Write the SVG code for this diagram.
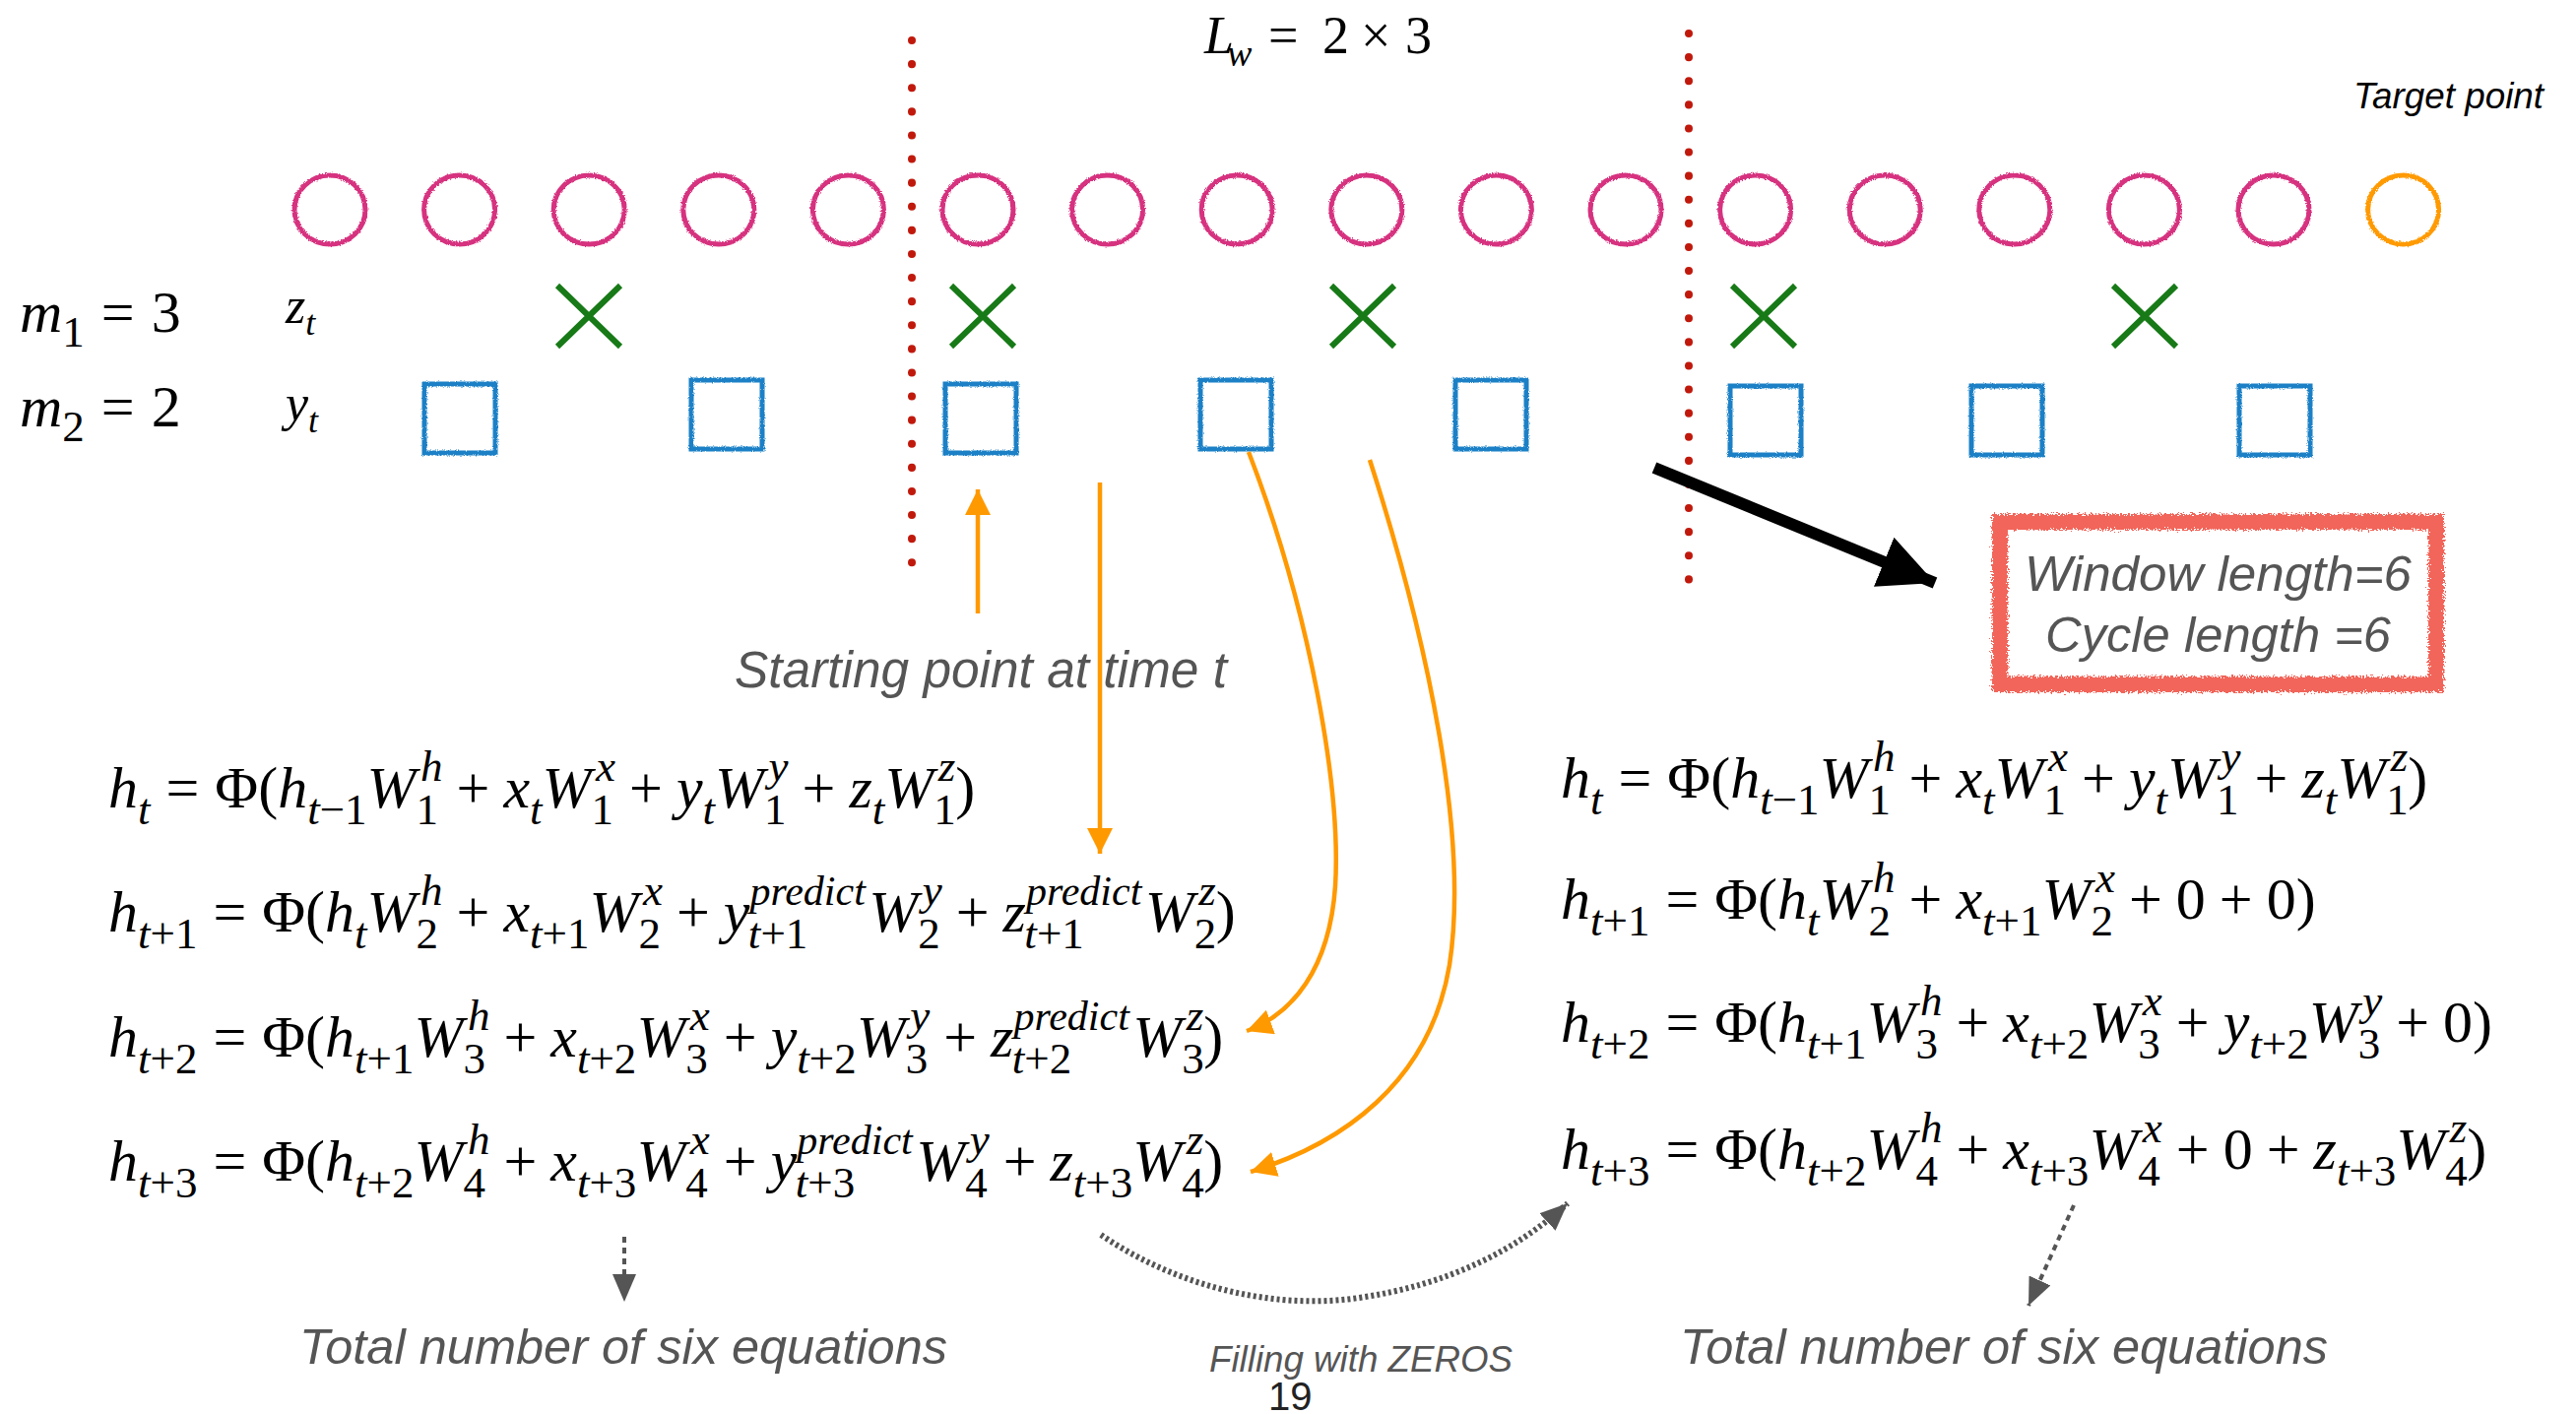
<svg xmlns="http://www.w3.org/2000/svg" width="2616" height="1436" viewBox="0 0 2616 1436">
<style>
.eq{font-family:"Liberation Serif","Times New Roman",serif;font-style:italic;font-size:60px;fill:#000}
.r{font-style:normal}
.sc{font-size:45px}
.pr{font-size:42px}
.lbl{font-family:"Liberation Sans",Arial,sans-serif;font-style:italic;fill:#555}
.circ{fill:none;stroke:#d6307f;stroke-width:5}
.sq{fill:none;stroke:#1a80c6;stroke-width:5}
.xm{stroke:#177a17;stroke-width:6;fill:none}
.dots{stroke:#c0190c;stroke-width:8;stroke-linecap:round;stroke-dasharray:0.1 24;fill:none}
.oa{fill:none;stroke:#ff9900;stroke-width:4.5}
.ga{fill:none;stroke:#555;stroke-width:4;stroke-dasharray:6 5}
.gd{fill:none;stroke:#555;stroke-width:6;stroke-dasharray:3 3}
</style>
<defs>
<filter id="rough" x="-10%" y="-10%" width="120%" height="120%">
<feTurbulence type="fractalNoise" baseFrequency="0.9" numOctaves="1" seed="3" result="n"/>
<feDisplacementMap in="SourceGraphic" in2="n" scale="3.5" xChannelSelector="R" yChannelSelector="G"/>
</filter>
<filter id="rough2" x="-5%" y="-10%" width="110%" height="120%">
<feTurbulence type="fractalNoise" baseFrequency="0.6" numOctaves="2" seed="5" result="n"/>
<feDisplacementMap in="SourceGraphic" in2="n" scale="9" xChannelSelector="R" yChannelSelector="G"/>
</filter>
<marker id="ao" markerUnits="userSpaceOnUse" markerWidth="28" markerHeight="28" refX="26" refY="13" orient="auto">
<path d="M0,0 L26,13 L0,26 z" fill="#ff9900"/>
</marker>
<marker id="ag" markerUnits="userSpaceOnUse" markerWidth="30" markerHeight="26" refX="28" refY="12" orient="auto">
<path d="M0,0 L28,12 L0,24 z" fill="#555"/>
</marker>
<marker id="ab" markerUnits="userSpaceOnUse" markerWidth="58" markerHeight="58" refX="56" refY="27" orient="auto">
<path d="M0,0 L56,27 L0,54 z" fill="#000"/>
</marker>
</defs>

<g id="dividers">
<line class="dots" x1="926" y1="41" x2="926" y2="595"/>
<line class="dots" x1="1715" y1="34" x2="1715" y2="590"/>
</g>

<g id="series-x" filter="url(#rough)">
<ellipse class="circ" cx="335" cy="213" rx="36" ry="35"/>
<ellipse class="circ" cx="466.6" cy="213" rx="36" ry="35"/>
<ellipse class="circ" cx="598.2" cy="213" rx="36" ry="35"/>
<ellipse class="circ" cx="729.8" cy="213" rx="36" ry="35"/>
<ellipse class="circ" cx="861.4" cy="213" rx="36" ry="35"/>
<ellipse class="circ" cx="993" cy="213" rx="36" ry="35"/>
<ellipse class="circ" cx="1124.6" cy="213" rx="36" ry="35"/>
<ellipse class="circ" cx="1256.2" cy="213" rx="36" ry="35"/>
<ellipse class="circ" cx="1387.8" cy="213" rx="36" ry="35"/>
<ellipse class="circ" cx="1519.4" cy="213" rx="36" ry="35"/>
<ellipse class="circ" cx="1651" cy="213" rx="36" ry="35"/>
<ellipse class="circ" cx="1782.6" cy="213" rx="36" ry="35"/>
<ellipse class="circ" cx="1914.2" cy="213" rx="36" ry="35"/>
<ellipse class="circ" cx="2045.8" cy="213" rx="36" ry="35"/>
<ellipse class="circ" cx="2177.4" cy="213" rx="36" ry="35"/>
<ellipse class="circ" cx="2309" cy="213" rx="36" ry="35"/>
<ellipse class="circ" cx="2440.6" cy="213" rx="36" ry="35" style="stroke:#ff9a00"/>
</g>

<g id="series-z">
<path class="xm" d="M566,290 L630,352 M630,290 L566,352"/>
<path class="xm" d="M966,290 L1030,352 M1030,290 L966,352"/>
<path class="xm" d="M1352,290 L1416,352 M1416,290 L1352,352"/>
<path class="xm" d="M1759,290 L1823,352 M1823,290 L1759,352"/>
<path class="xm" d="M2146,290 L2210,352 M2210,290 L2146,352"/>
</g>

<g id="series-y" filter="url(#rough)">
<rect class="sq" x="431" y="390" width="72" height="70"/>
<rect class="sq" x="702" y="386" width="72" height="70"/>
<rect class="sq" x="960" y="390" width="72" height="70"/>
<rect class="sq" x="1219" y="386" width="72" height="70"/>
<rect class="sq" x="1478" y="386" width="72" height="70"/>
<rect class="sq" x="1757" y="392" width="72" height="70"/>
<rect class="sq" x="2002" y="392" width="72" height="70"/>
<rect class="sq" x="2274" y="392" width="72" height="70"/>
</g>

<g id="labels">
<text class="eq" x="1223" y="54" style="font-size:54px">L<tspan x="1246" dy="13" style="font-size:38px">w</tspan><tspan class="r" x="1288" dy="-13">=</tspan><tspan class="r" x="1343">2</tspan><tspan class="r" x="1382">×</tspan><tspan class="r" x="1427">3</tspan></text>
<text class="lbl" x="2390" y="110" textLength="193" lengthAdjust="spacingAndGlyphs" style="font-size:36px;fill:#000">Target point</text>
<text class="eq" x="20" y="337">m<tspan class="sc r" dy="15">1</tspan><tspan class="r" dy="-15" dx="17">=</tspan><tspan class="r" dx="17">3</tspan></text>
<text class="eq" x="20" y="433">m<tspan class="sc r" dy="15">2</tspan><tspan class="r" dy="-15" dx="17">=</tspan><tspan class="r" dx="17">2</tspan></text>
<text class="eq" x="290" y="328" style="font-size:52px">z<tspan dy="12" style="font-size:36px">t</tspan></text>
<text class="eq" x="290" y="427" style="font-size:52px">y<tspan dy="12" style="font-size:36px">t</tspan></text>
<text class="lbl" x="746" y="698" textLength="500" lengthAdjust="spacingAndGlyphs" style="font-size:51px">Starting point at time t</text>
<text class="lbl" x="304" y="1385" textLength="658" lengthAdjust="spacingAndGlyphs" style="font-size:50px">Total number of six equations</text>
<text class="lbl" x="1706" y="1385" textLength="658" lengthAdjust="spacingAndGlyphs" style="font-size:50px">Total number of six equations</text>
<text class="lbl" x="1228" y="1393" textLength="308" lengthAdjust="spacingAndGlyphs" style="font-size:36px">Filling with ZEROS</text>
<text x="1288" y="1432" style="font-family:'Liberation Sans',Arial,sans-serif;font-size:40px;fill:#222">19</text>
</g>

<g id="note-box">
<rect x="2031" y="530" width="443" height="165" fill="none" stroke="#f2655a" stroke-width="16" filter="url(#rough2)"/>
<text class="lbl" x="2056" y="600" textLength="393" lengthAdjust="spacingAndGlyphs" style="font-size:50px">Window length=6</text>
<text class="lbl" x="2077" y="662" textLength="351" lengthAdjust="spacingAndGlyphs" style="font-size:50px">Cycle length =6</text>
</g>

<g id="equations-left">
<text class="eq" x="110" y="820">h<tspan class="sc" dy="17">t</tspan><tspan class="r" dy="-17" dx="16">=</tspan><tspan class="r" dx="16">Φ(</tspan>h<tspan class="sc" dy="17">t<tspan class="r">−1</tspan></tspan><tspan dy="-17">W</tspan><tspan class="sc r" dy="17">1</tspan><tspan class="sc" dx="-18" dy="-44">h</tspan><tspan class="r" dy="27" dx="14">+</tspan><tspan dx="14">x</tspan><tspan class="sc" dy="17">t</tspan><tspan dy="-17">W</tspan><tspan class="sc r" dy="17">1</tspan><tspan class="sc" dx="-18" dy="-44">x</tspan><tspan class="r" dy="27" dx="14">+</tspan><tspan dx="14">y</tspan><tspan class="sc" dy="17">t</tspan><tspan dy="-17">W</tspan><tspan class="sc r" dy="17">1</tspan><tspan class="sc" dx="-18" dy="-44">y</tspan><tspan class="r" dy="27" dx="14">+</tspan><tspan dx="14">z</tspan><tspan class="sc" dy="17">t</tspan><tspan dy="-17">W</tspan><tspan class="sc r" dy="17">1</tspan><tspan class="sc" dx="-18" dy="-44">z</tspan><tspan class="r" dy="27">)</tspan></text>

<text class="eq" x="110" y="946">h<tspan class="sc" dy="17">t<tspan class="r">+1</tspan></tspan><tspan class="r" dy="-17" dx="16">=</tspan><tspan class="r" dx="16">Φ(</tspan>h<tspan class="sc" dy="17">t</tspan><tspan dy="-17">W</tspan><tspan class="sc r" dy="17">2</tspan><tspan class="sc" dx="-18" dy="-44">h</tspan><tspan class="r" dy="27" dx="14">+</tspan><tspan dx="14">x</tspan><tspan class="sc" dy="17">t<tspan class="r">+1</tspan></tspan><tspan dy="-17">W</tspan><tspan class="sc r" dy="17">2</tspan><tspan class="sc" dx="-18" dy="-44">x</tspan><tspan class="r" dy="27" dx="14">+</tspan><tspan dx="14">y</tspan><tspan class="pr" dy="-27">predict</tspan><tspan class="sc" dx="-119" dy="44">t<tspan class="r">+1</tspan></tspan><tspan dx="62" dy="-17">W</tspan><tspan class="sc r" dy="17">2</tspan><tspan class="sc" dx="-18" dy="-44">y</tspan><tspan class="r" dy="27" dx="14">+</tspan><tspan dx="14">z</tspan><tspan class="pr" dy="-27">predict</tspan><tspan class="sc" dx="-119" dy="44">t<tspan class="r">+1</tspan></tspan><tspan dx="62" dy="-17">W</tspan><tspan class="sc r" dy="17">2</tspan><tspan class="sc" dx="-18" dy="-44">z</tspan><tspan class="r" dy="27">)</tspan></text>

<text class="eq" x="110" y="1073">h<tspan class="sc" dy="17">t<tspan class="r">+2</tspan></tspan><tspan class="r" dy="-17" dx="16">=</tspan><tspan class="r" dx="16">Φ(</tspan>h<tspan class="sc" dy="17">t<tspan class="r">+1</tspan></tspan><tspan dy="-17">W</tspan><tspan class="sc r" dy="17">3</tspan><tspan class="sc" dx="-18" dy="-44">h</tspan><tspan class="r" dy="27" dx="14">+</tspan><tspan dx="14">x</tspan><tspan class="sc" dy="17">t<tspan class="r">+2</tspan></tspan><tspan dy="-17">W</tspan><tspan class="sc r" dy="17">3</tspan><tspan class="sc" dx="-18" dy="-44">x</tspan><tspan class="r" dy="27" dx="14">+</tspan><tspan dx="14">y</tspan><tspan class="sc" dy="17">t<tspan class="r">+2</tspan></tspan><tspan dy="-17">W</tspan><tspan class="sc r" dy="17">3</tspan><tspan class="sc" dx="-18" dy="-44">y</tspan><tspan class="r" dy="27" dx="14">+</tspan><tspan dx="14">z</tspan><tspan class="pr" dy="-27">predict</tspan><tspan class="sc" dx="-119" dy="44">t<tspan class="r">+2</tspan></tspan><tspan dx="62" dy="-17">W</tspan><tspan class="sc r" dy="17">3</tspan><tspan class="sc" dx="-18" dy="-44">z</tspan><tspan class="r" dy="27">)</tspan></text>

<text class="eq" x="110" y="1199">h<tspan class="sc" dy="17">t<tspan class="r">+3</tspan></tspan><tspan class="r" dy="-17" dx="16">=</tspan><tspan class="r" dx="16">Φ(</tspan>h<tspan class="sc" dy="17">t<tspan class="r">+2</tspan></tspan><tspan dy="-17">W</tspan><tspan class="sc r" dy="17">4</tspan><tspan class="sc" dx="-18" dy="-44">h</tspan><tspan class="r" dy="27" dx="14">+</tspan><tspan dx="14">x</tspan><tspan class="sc" dy="17">t<tspan class="r">+3</tspan></tspan><tspan dy="-17">W</tspan><tspan class="sc r" dy="17">4</tspan><tspan class="sc" dx="-18" dy="-44">x</tspan><tspan class="r" dy="27" dx="14">+</tspan><tspan dx="14">y</tspan><tspan class="pr" dy="-27">predict</tspan><tspan class="sc" dx="-119" dy="44">t<tspan class="r">+3</tspan></tspan><tspan dx="62" dy="-17">W</tspan><tspan class="sc r" dy="17">4</tspan><tspan class="sc" dx="-18" dy="-44">y</tspan><tspan class="r" dy="27" dx="14">+</tspan><tspan dx="14">z</tspan><tspan class="sc" dy="17">t<tspan class="r">+3</tspan></tspan><tspan dy="-17">W</tspan><tspan class="sc r" dy="17">4</tspan><tspan class="sc" dx="-18" dy="-44">z</tspan><tspan class="r" dy="27">)</tspan></text>
</g>

<g id="equations-right">
<text class="eq" x="1585" y="810">h<tspan class="sc" dy="17">t</tspan><tspan class="r" dy="-17" dx="16">=</tspan><tspan class="r" dx="16">Φ(</tspan>h<tspan class="sc" dy="17">t<tspan class="r">−1</tspan></tspan><tspan dy="-17">W</tspan><tspan class="sc r" dy="17">1</tspan><tspan class="sc" dx="-18" dy="-44">h</tspan><tspan class="r" dy="27" dx="14">+</tspan><tspan dx="14">x</tspan><tspan class="sc" dy="17">t</tspan><tspan dy="-17">W</tspan><tspan class="sc r" dy="17">1</tspan><tspan class="sc" dx="-18" dy="-44">x</tspan><tspan class="r" dy="27" dx="14">+</tspan><tspan dx="14">y</tspan><tspan class="sc" dy="17">t</tspan><tspan dy="-17">W</tspan><tspan class="sc r" dy="17">1</tspan><tspan class="sc" dx="-18" dy="-44">y</tspan><tspan class="r" dy="27" dx="14">+</tspan><tspan dx="14">z</tspan><tspan class="sc" dy="17">t</tspan><tspan dy="-17">W</tspan><tspan class="sc r" dy="17">1</tspan><tspan class="sc" dx="-18" dy="-44">z</tspan><tspan class="r" dy="27">)</tspan></text>

<text class="eq" x="1585" y="933">h<tspan class="sc" dy="17">t<tspan class="r">+1</tspan></tspan><tspan class="r" dy="-17" dx="16">=</tspan><tspan class="r" dx="16">Φ(</tspan>h<tspan class="sc" dy="17">t</tspan><tspan dy="-17">W</tspan><tspan class="sc r" dy="17">2</tspan><tspan class="sc" dx="-18" dy="-44">h</tspan><tspan class="r" dy="27" dx="14">+</tspan><tspan dx="14">x</tspan><tspan class="sc" dy="17">t<tspan class="r">+1</tspan></tspan><tspan dy="-17">W</tspan><tspan class="sc r" dy="17">2</tspan><tspan class="sc" dx="-18" dy="-44">x</tspan><tspan class="r" dy="27" dx="14">+</tspan><tspan class="r" dx="14">0</tspan><tspan class="r" dx="14">+</tspan><tspan class="r" dx="14">0)</tspan></text>

<text class="eq" x="1585" y="1058">h<tspan class="sc" dy="17">t<tspan class="r">+2</tspan></tspan><tspan class="r" dy="-17" dx="16">=</tspan><tspan class="r" dx="16">Φ(</tspan>h<tspan class="sc" dy="17">t<tspan class="r">+1</tspan></tspan><tspan dy="-17">W</tspan><tspan class="sc r" dy="17">3</tspan><tspan class="sc" dx="-18" dy="-44">h</tspan><tspan class="r" dy="27" dx="14">+</tspan><tspan dx="14">x</tspan><tspan class="sc" dy="17">t<tspan class="r">+2</tspan></tspan><tspan dy="-17">W</tspan><tspan class="sc r" dy="17">3</tspan><tspan class="sc" dx="-18" dy="-44">x</tspan><tspan class="r" dy="27" dx="14">+</tspan><tspan dx="14">y</tspan><tspan class="sc" dy="17">t<tspan class="r">+2</tspan></tspan><tspan dy="-17">W</tspan><tspan class="sc r" dy="17">3</tspan><tspan class="sc" dx="-18" dy="-44">y</tspan><tspan class="r" dy="27" dx="14">+</tspan><tspan class="r" dx="14">0)</tspan></text>

<text class="eq" x="1585" y="1187">h<tspan class="sc" dy="17">t<tspan class="r">+3</tspan></tspan><tspan class="r" dy="-17" dx="16">=</tspan><tspan class="r" dx="16">Φ(</tspan>h<tspan class="sc" dy="17">t<tspan class="r">+2</tspan></tspan><tspan dy="-17">W</tspan><tspan class="sc r" dy="17">4</tspan><tspan class="sc" dx="-18" dy="-44">h</tspan><tspan class="r" dy="27" dx="14">+</tspan><tspan dx="14">x</tspan><tspan class="sc" dy="17">t<tspan class="r">+3</tspan></tspan><tspan dy="-17">W</tspan><tspan class="sc r" dy="17">4</tspan><tspan class="sc" dx="-18" dy="-44">x</tspan><tspan class="r" dy="27" dx="14">+</tspan><tspan class="r" dx="14">0</tspan><tspan class="r" dx="14">+</tspan><tspan dx="14">z</tspan><tspan class="sc" dy="17">t<tspan class="r">+3</tspan></tspan><tspan dy="-17">W</tspan><tspan class="sc r" dy="17">4</tspan><tspan class="sc" dx="-18" dy="-44">z</tspan><tspan class="r" dy="27">)</tspan></text>
</g>

<g id="connectors">
<line class="oa" x1="993" y1="623" x2="993" y2="497" marker-end="url(#ao)"/>
<line class="oa" x1="1117" y1="490" x2="1117" y2="867" marker-end="url(#ao)"/>
<path class="oa" d="M1268,459 C1330,620 1362,800 1356,900 C1350,985 1312,1030 1266,1047" marker-end="url(#ao)"/>
<path class="oa" d="M1391,467 C1450,650 1492,850 1472,980 C1452,1100 1362,1162 1270,1190" marker-end="url(#ao)"/>
<line x1="1680" y1="475" x2="1965" y2="592" stroke="#000" stroke-width="12" marker-end="url(#ab)"/>
<line class="ga" x1="634" y1="1256" x2="634" y2="1322" marker-end="url(#ag)"/>
<line class="ga" x1="2106" y1="1224" x2="2060" y2="1326" marker-end="url(#ag)"/>
<path class="gd" d="M1118,1254 C1200,1310 1300,1330 1380,1318 C1470,1305 1540,1270 1592,1222" marker-end="url(#ag)"/>
</g>
</svg>
